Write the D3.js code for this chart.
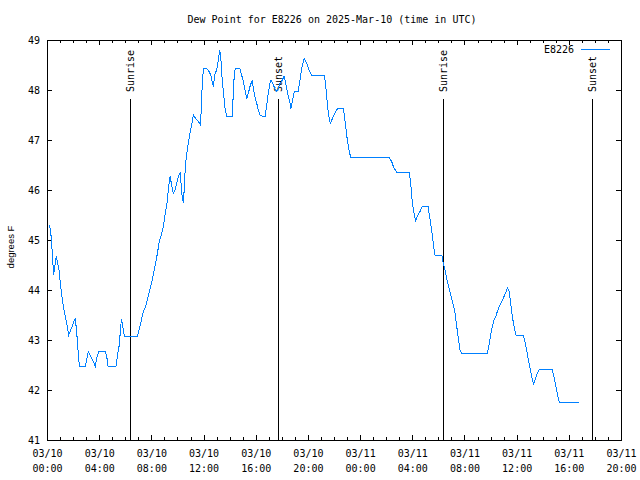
<!DOCTYPE html>
<html>
<head>
<meta charset="utf-8">
<script src="https://cdn.jsdelivr.net/npm/d3@7"></script>
<style>
html,body{margin:0;padding:0;background:#fff;}
svg{display:block;}
text{font-family:"DejaVu Sans Mono",monospace;font-size:10px;fill:#000;}
</style>
</head>
<body>
<svg id="chart" width="640" height="480"></svg>
<script>
// ---- data (hours since 2025-03-10 00:00 UTC, dew point °F) ----
const hours = [0.18,0.28,0.36,0.41,0.48,0.51,0.56,0.67,0.71,0.79,0.92,1.05,1.15,1.25,1.38,1.51,1.66,1.82,1.97,2.15,2.22,2.30,2.38,2.45,2.51,2.94,3.17,3.30,3.43,3.55,3.70,3.81,3.96,4.45,4.58,4.68,5.29,5.42,5.52,5.60,5.70,5.77,5.88,5.96,6.92,7.03,7.13,7.26,7.38,7.57,7.69,7.85,8.00,8.15,8.30,8.46,8.61,8.76,8.92,9.07,9.18,9.25,9.33,9.43,9.56,9.68,9.81,9.94,10.07,10.20,10.30,10.35,10.45,10.50,10.56,10.63,10.71,10.83,10.96,11.09,11.22,11.40,11.60,11.75,11.81,11.86,11.94,11.98,12.21,12.36,12.55,12.75,12.88,13.01,13.13,13.24,13.32,13.39,13.52,13.65,13.78,14.20,14.28,14.36,14.43,14.79,14.92,15.05,15.18,15.31,15.43,15.56,15.72,15.82,15.94,16.08,16.20,16.33,16.50,16.73,16.84,16.96,17.09,17.17,17.30,17.40,17.53,17.61,17.73,17.86,18.04,18.17,18.24,18.38,18.50,18.63,18.70,18.83,18.96,19.26,19.39,19.52,19.72,19.91,20.08,20.29,21.26,21.36,21.44,21.52,21.64,21.72,21.95,22.21,22.33,22.71,22.79,22.90,23.02,23.15,23.28,26.24,26.42,26.55,26.81,27.77,27.88,27.96,28.08,28.26,28.39,28.59,28.77,29.21,29.31,29.49,29.61,29.74,30.26,30.38,30.51,30.64,30.76,30.89,31.02,31.15,31.28,31.41,31.53,31.66,31.79,33.75,33.88,34.01,34.14,34.27,34.40,34.52,34.67,34.86,35.03,35.19,35.29,35.42,35.55,35.67,35.80,35.95,36.51,36.64,36.77,36.90,37.03,37.16,37.28,37.41,37.54,37.74,38.73,38.86,38.99,39.12,39.27,40.81];
const dewF = [45.30,45.17,44.94,44.70,44.43,44.30,44.40,44.62,44.67,44.57,44.40,44.07,43.87,43.67,43.50,43.33,43.10,43.20,43.30,43.43,43.30,43.07,42.80,42.57,42.47,42.47,42.77,42.70,42.63,42.57,42.47,42.63,42.77,42.77,42.67,42.47,42.47,42.73,42.87,43.10,43.41,43.34,43.14,43.08,43.08,43.17,43.28,43.43,43.57,43.67,43.80,43.97,44.13,44.30,44.50,44.73,44.97,45.10,45.27,45.55,45.70,45.87,46.07,46.27,46.10,45.93,46.00,46.13,46.27,46.35,46.07,45.90,45.75,45.93,46.27,46.53,46.73,46.93,47.13,47.30,47.50,47.43,47.37,47.31,47.53,47.90,48.23,48.43,48.43,48.40,48.30,48.07,48.33,48.40,48.60,48.79,48.67,48.33,47.97,47.63,47.48,47.48,47.93,48.33,48.43,48.43,48.30,48.17,48.00,47.83,47.93,48.07,48.19,48.03,47.87,47.73,47.60,47.50,47.48,47.48,47.70,47.93,48.13,48.20,48.13,48.07,48.00,47.97,48.03,48.13,48.20,48.27,48.20,48.03,47.87,47.73,47.63,47.80,47.97,47.97,48.20,48.43,48.63,48.53,48.40,48.30,48.30,48.10,47.87,47.63,47.43,47.33,47.47,47.61,47.63,47.63,47.50,47.27,47.00,46.80,46.65,46.65,46.57,46.47,46.35,46.35,46.13,45.87,45.60,45.39,45.47,45.57,45.68,45.68,45.50,45.20,44.93,44.70,44.70,44.53,44.40,44.23,44.10,43.97,43.83,43.70,43.53,43.27,43.03,42.80,42.73,42.73,42.90,43.10,43.27,43.40,43.47,43.57,43.67,43.77,43.87,43.97,44.05,43.97,43.73,43.47,43.27,43.10,43.10,42.97,42.80,42.60,42.43,42.27,42.12,42.20,42.30,42.41,42.41,42.27,42.10,41.93,41.75,41.75];
const sunHours = [6.36, 17.73, 30.38, 41.80];
const sunLabels = ["Sunrise", "Sunset", "Sunrise", "Sunset"];
const yTicks = [41, 42, 43, 44, 45, 46, 47, 48, 49];
const seriesName = "E8226";
const titleText = "Dew Point for E8226 on 2025-Mar-10 (time in UTC)";
const yLabelText = "degrees F";

// ---- layout ----
const L = 47, R = 621, T = 40, B = 440;
const t0 = Date.UTC(2025, 2, 10, 0, 0);
const t1 = Date.UTC(2025, 2, 11, 20, 0);
const toDate = h => new Date(t0 + h * 3600e3);

const svg = d3.select("#chart");
const x = d3.scaleUtc().domain([new Date(t0), new Date(t1)]).range([L, R]);
const y = d3.scaleLinear().domain([41, 49]).range([B, T]);

// title
svg.append("text").attr("x", 332).attr("y", 23).attr("text-anchor", "middle").text(titleText);

// y label
svg.append("text")
  .attr("transform", "translate(11,247) rotate(-90)")
  .attr("text-anchor", "middle").attr("dy", "0.35em")
  .style("font-family", "'Liberation Sans',Arial,sans-serif").style("font-size", "9.5px")
  .text(yLabelText);

const majorT = d3.utcHour.every(4).range(new Date(t0), new Date(t1 + 1));
const minorT = d3.utcHour.every(1).range(new Date(t0), new Date(t1 + 1));

function styleAxis(g) {
  g.select(".domain").remove();
  g.selectAll("line").attr("stroke", "#000").attr("shape-rendering", "crispEdges");
}

// minor ticks
svg.append("g").attr("transform", `translate(0,${B})`)
  .call(d3.axisBottom(x).tickValues(minorT).tickSize(-3).tickFormat(""))
  .call(styleAxis);
svg.append("g").attr("transform", `translate(0,${T})`)
  .call(d3.axisTop(x).tickValues(minorT).tickSize(-3).tickFormat(""))
  .call(styleAxis);

// major x ticks
const fmtD = d3.utcFormat("%m/%d"), fmtH = d3.utcFormat("%H:%M");
const xb = svg.append("g").attr("transform", `translate(0,${B})`)
  .call(d3.axisBottom(x).tickValues(majorT).tickSize(-5).tickFormat(""))
  .call(styleAxis);
xb.selectAll(".tick").each(function(d) {
  const t = d3.select(this).append("text").attr("text-anchor", "middle").attr("fill", "#000")
    .style("font-family", "'DejaVu Sans Mono',monospace").style("font-size", "10px");
  t.append("tspan").attr("x", 0).attr("y", 17).text(fmtD(d));
  t.append("tspan").attr("x", 0).attr("y", 32).text(fmtH(d));
});
svg.append("g").attr("transform", `translate(0,${T})`)
  .call(d3.axisTop(x).tickValues(majorT).tickSize(-5).tickFormat(""))
  .call(styleAxis);

// y ticks
const yl = svg.append("g").attr("transform", `translate(${L},0)`)
  .call(d3.axisLeft(y).tickValues(yTicks).tickSize(-5).tickPadding(7).tickFormat(d3.format("d")))
  .call(styleAxis);
yl.selectAll("text").style("font-family", "'DejaVu Sans Mono',monospace").style("font-size", "10px").attr("fill", "#000");
svg.append("g").attr("transform", `translate(${R},0)`)
  .call(d3.axisRight(y).tickValues(yTicks).tickSize(-5).tickFormat(""))
  .call(styleAxis);

// border
svg.append("rect").attr("x", L).attr("y", T).attr("width", R - L).attr("height", B - T)
  .attr("fill", "none").attr("stroke", "#000").attr("shape-rendering", "crispEdges");

// sun lines
const sun = svg.append("g");
sunHours.forEach((h, i) => {
  const sx = Math.round(x(toDate(h))) + 0.5;
  sun.append("line").attr("x1", sx).attr("x2", sx).attr("y1", 99).attr("y2", B)
    .attr("stroke", "#000").attr("stroke-width", 1);
  sun.append("text").attr("transform", `translate(${sx},92) rotate(-90)`)
    .attr("text-anchor", "start").attr("dy", "0.35em").text(sunLabels[i]);
});

// data line
const pts = hours.map((h, i) => [toDate(h), dewF[i]]);
svg.append("path").datum(pts)
  .attr("fill", "none").attr("stroke", "#0080ff").attr("stroke-width", 1)
  .attr("shape-rendering", "crispEdges")
  .attr("d", d3.line().x(d => x(d[0])).y(d => y(d[1])));

// legend
svg.append("text").attr("x", 574).attr("y", 53).attr("text-anchor", "end").text(seriesName);
svg.append("line").attr("x1", 581).attr("x2", 610).attr("y1", 49.5).attr("y2", 49.5)
  .attr("stroke", "#0080ff").attr("stroke-width", 1);
</script>
</body>
</html>
